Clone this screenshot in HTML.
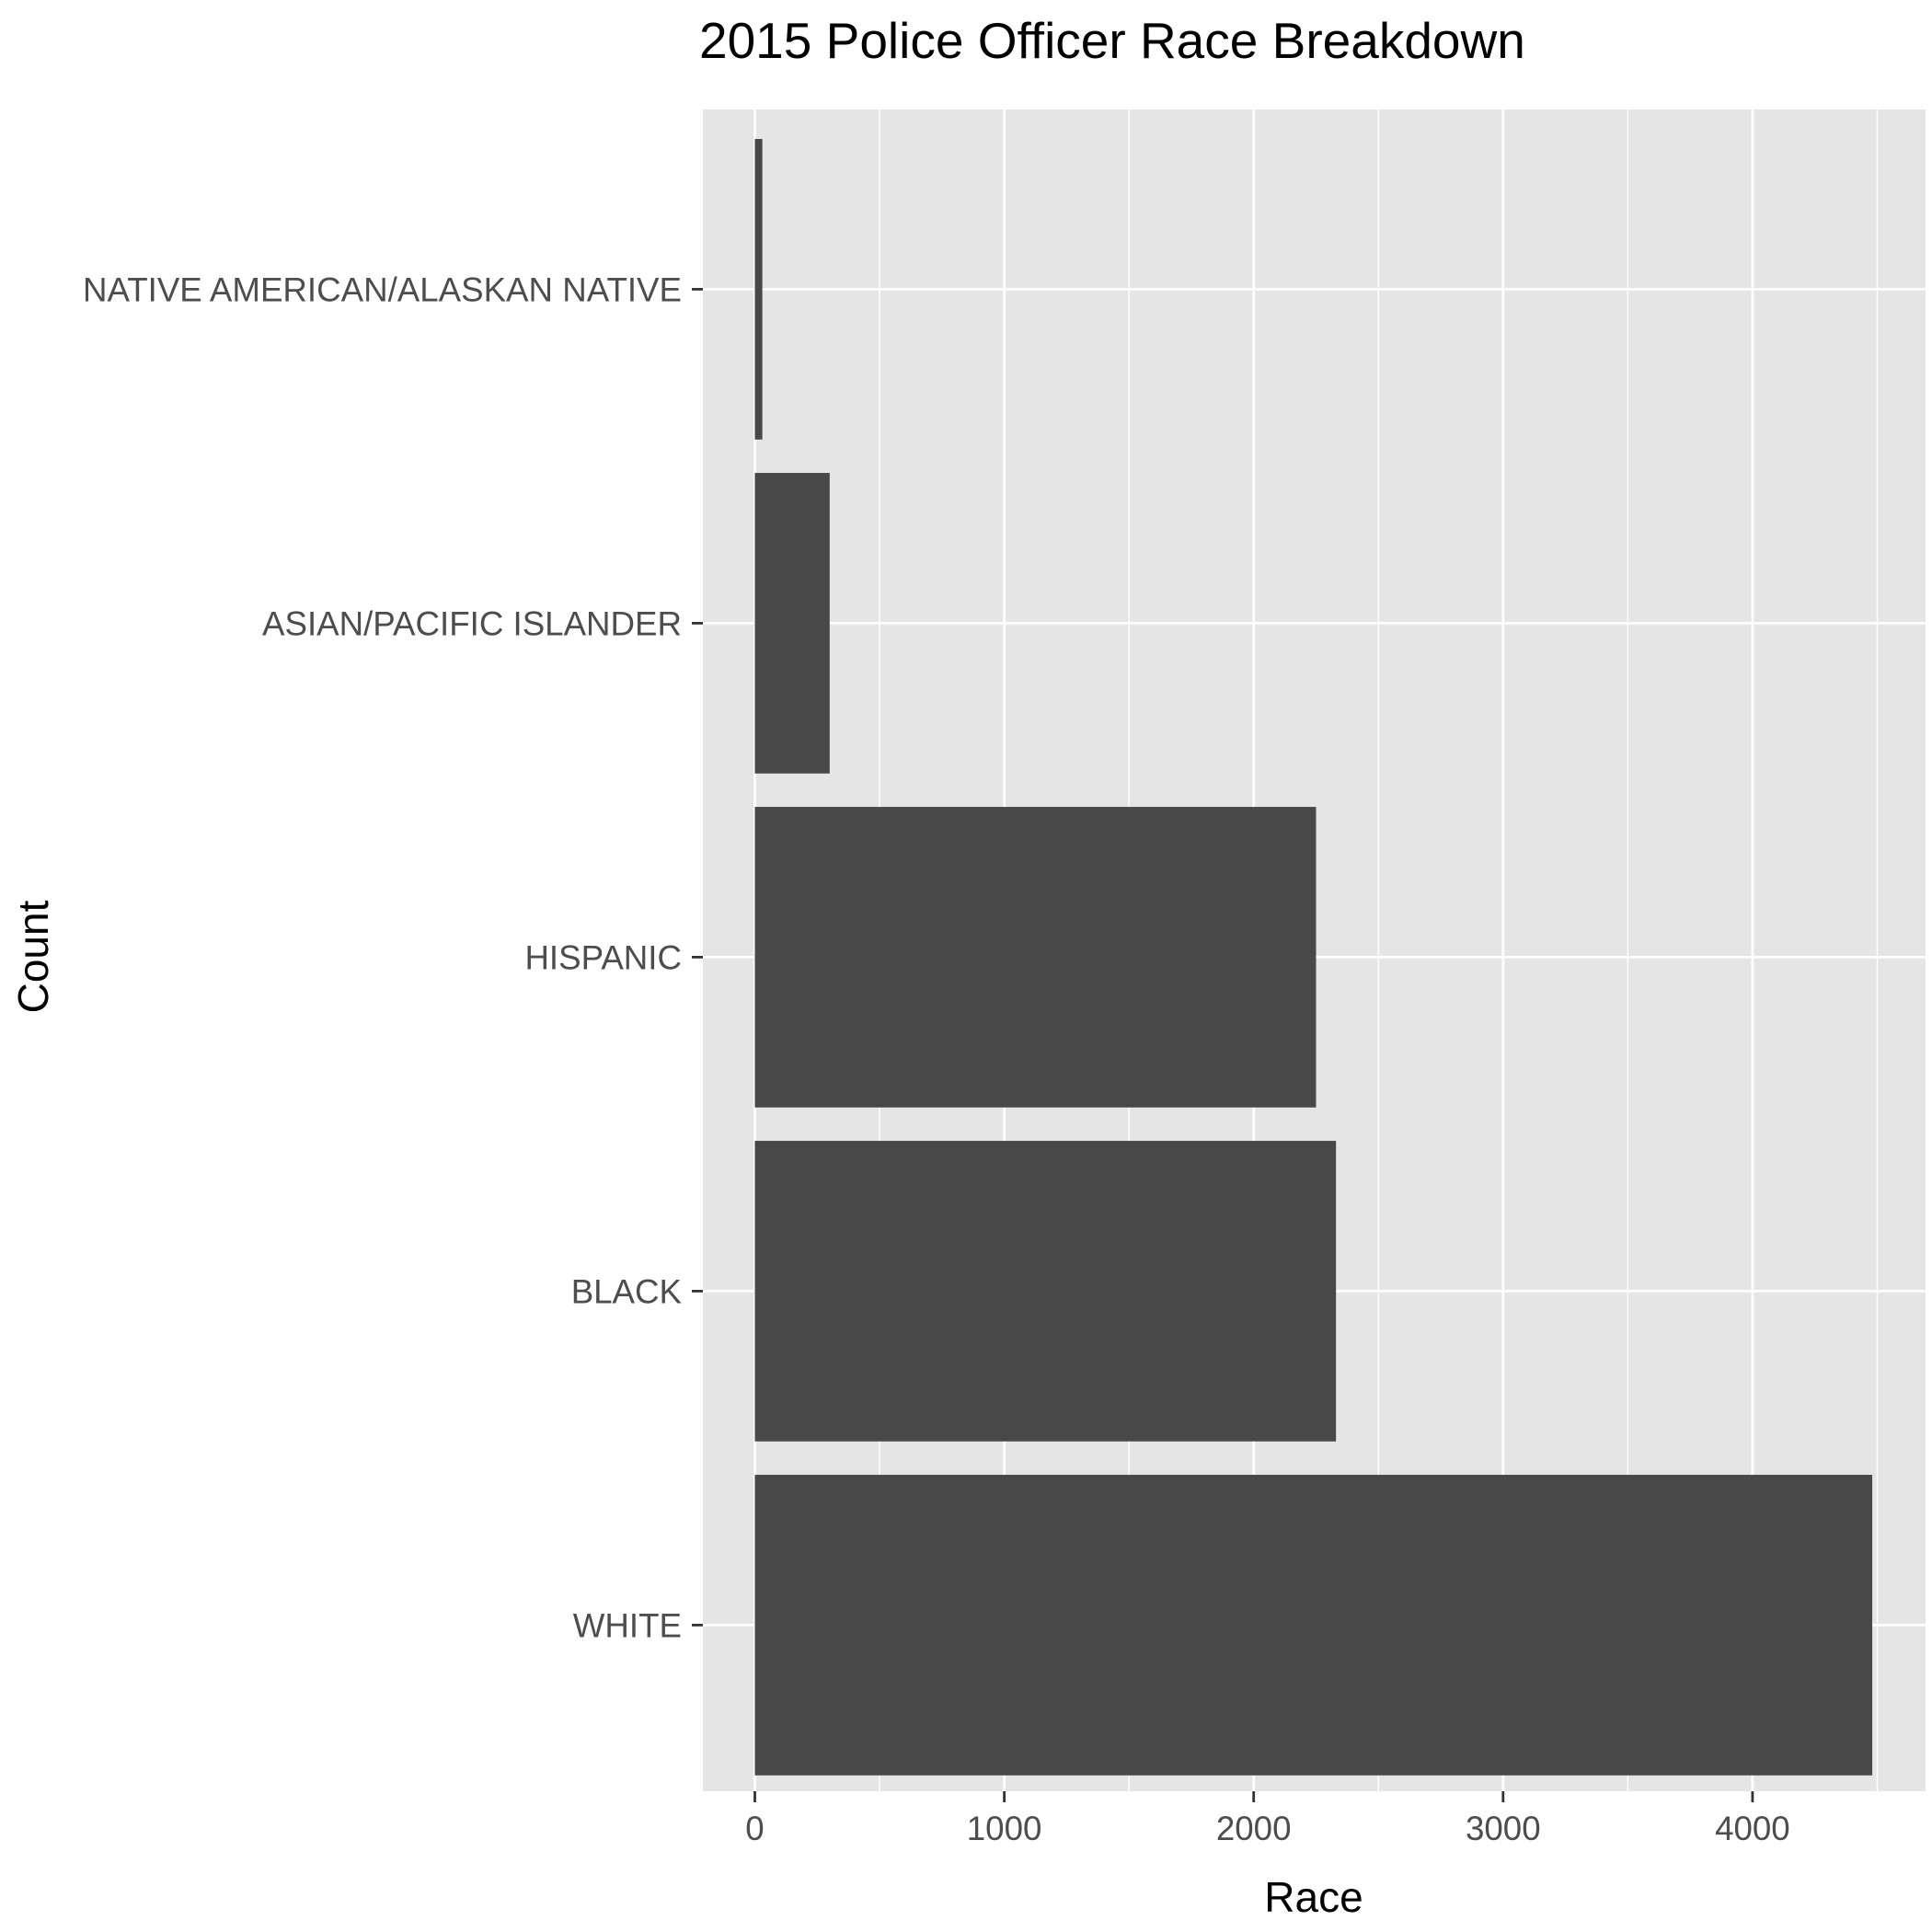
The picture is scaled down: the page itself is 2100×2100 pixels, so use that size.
<!DOCTYPE html>
<html><head><meta charset="utf-8"><style>body{margin:0;background:#fff}svg{display:block}</style></head>
<body>
<svg id="chart" width="2100" height="2100" xmlns="http://www.w3.org/2000/svg" font-family="Liberation Sans, Arial, sans-serif">
<text x="760" y="63" font-size="55" fill="#000">2015 Police Officer Race Breakdown</text>
<rect x="764" y="119" width="1329" height="1828" fill="#E5E5E5"/>
<g id="grid"></g><g id="bars"></g><g id="axes"></g>
<text x="1428" y="2078" font-size="46" text-anchor="middle" fill="#000">Race</text>
<text transform="translate(52,1040) rotate(-90)" font-size="46" text-anchor="middle" fill="#000">Count</text>
</svg>
<script>
const categories = ["NATIVE AMERICAN/ALASKAN NATIVE","ASIAN/PACIFIC ISLANDER","HISPANIC","BLACK","WHITE"];
const counts = [30, 300, 2250, 2330, 4480];
const xTicks = [0,1000,2000,3000,4000];
const NS="http://www.w3.org/2000/svg";
const x0=820.5, pxPer=0.2711, pLeft=764, pRight=2093, yTop=119, yBottom=1947;
const unit=363, firstC=314.4, bh=unit*0.9;
const xs=v=>x0+v*pxPer, ys=i=>firstC+i*unit;
function mk(t,a,p){const e=document.createElementNS(NS,t);for(const k in a)e.setAttribute(k,a[k]);p.appendChild(e);return e;}
const grid=document.getElementById('grid'),bars=document.getElementById('bars'),axes=document.getElementById('axes');
for(let v=-500; v<=5000; v+=500){const x=xs(v);if(x<pLeft||x>pRight)continue;
 const major=v%1000===0;
 const l=mk('line',{x1:x,x2:x,y1:yTop,y2:yBottom,stroke:'#fff','stroke-width':major?2.8:1.4},grid);
 
 }
categories.forEach((c,i)=>{const y=ys(i);
 const l=mk('line',{x1:pLeft,x2:pRight,y1:y,y2:y,stroke:'#fff','stroke-width':2.8},grid);
 
 
 const r=mk('rect',{x:xs(0),y:y-bh/2,width:xs(counts[i])-xs(0),height:bh,fill:'#484848'},bars);
 
 
 const t=mk('line',{x1:752,x2:764,y1:y,y2:y,stroke:'#333','stroke-width':2.8},axes);
 
 
 const tl=mk('text',{x:741,y:y+13,'font-size':36.7,'text-anchor':'end',fill:'#4D4D4D'},axes);
 tl.textContent=c;
 
 });
xTicks.forEach(v=>{const x=xs(v);
 const t=mk('line',{x1:x,x2:x,y1:yBottom,y2:yBottom+12,stroke:'#333','stroke-width':2.8},axes);
 
 
 const tl=mk('text',{x:x,y:2000,'font-size':36.7,'text-anchor':'middle',fill:'#4D4D4D'},axes);
 tl.textContent=v;
 
 });
</script>
</body></html>
